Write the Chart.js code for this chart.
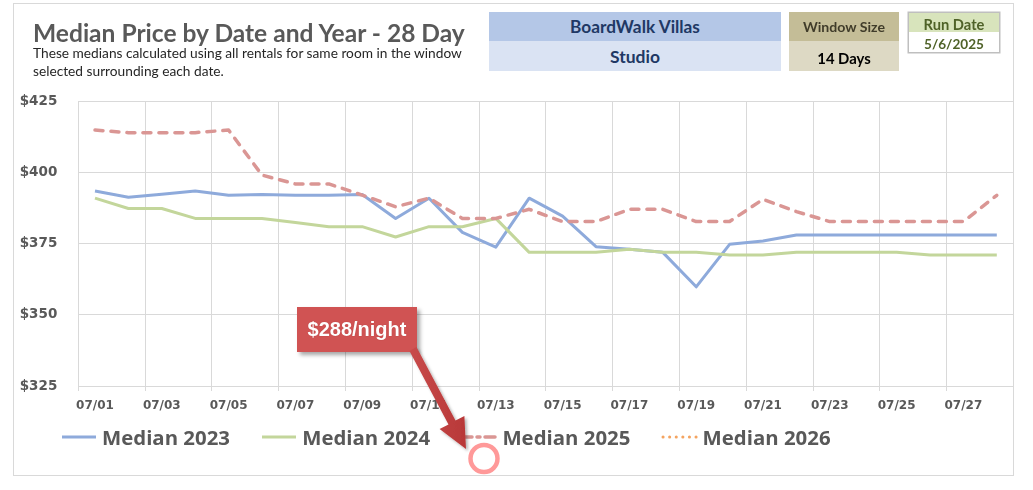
<!DOCTYPE html>
<html>
<head>
<meta charset="utf-8">
<script src="https://cdn.jsdelivr.net/npm/chart.js@4/dist/chart.umd.min.js"></script>
<style>
html,body{margin:0;padding:0;background:#fff;}
#wrap{position:relative;width:1033px;height:490px;overflow:hidden;background:#fff;}
#frame{position:absolute;left:13px;top:3px;width:999px;height:471px;border:1px solid #D9D9D9;}
#chart{position:absolute;left:0;top:0;}
.t{position:absolute;white-space:nowrap;line-height:normal;font-family:Lato,"Open Sans",sans-serif;}
.box{position:absolute;}
#note{position:absolute;left:297px;top:307px;width:120px;height:45px;background:#D05353;
  box-shadow:3px 3px 4px rgba(0,0,0,0.35);}
#legend .sw{position:absolute;}
</style>
</head>
<body>
<div id="wrap">
  <div id="frame"></div>
  <canvas id="chart" width="1033" height="490"></canvas>

  <div class="t" id="title" data-w="432" data-x="33" data-cy="32.5" style="font-weight:700;color:#595959;">Median Price by Date and Year - 28 Day</div>
  <div class="t" id="sub1" data-w="429" data-x="33" data-cy="52" style="color:#262626;">These medians calculated using all rentals for same room in the window</div>
  <div class="t" id="sub2" data-same="sub1" data-x="33" data-cy="70" style="color:#262626;">selected surrounding each date.</div>

  <div class="box" style="left:489px;top:12px;width:292px;height:29px;background:#B4C7E7;"></div>
  <div class="box" style="left:489px;top:41px;width:292px;height:30px;background:#DAE3F3;"></div>
  <div class="box" style="left:789px;top:12px;width:110px;height:29px;background:#C4BD97;"></div>
  <div class="box" style="left:789px;top:41px;width:110px;height:30px;background:#DDD9C4;"></div>
  <div class="box" style="left:908px;top:12px;width:90px;height:39px;background:#fff;border:1px solid #BFBFBF;box-shadow:0 0 0 0.5px #BFBFBF;"></div>
  <div class="box" style="left:909px;top:13px;width:90px;height:19px;background:#D8E4BC;"></div>

  <div class="t" id="h1" data-w="130" data-cx="635" data-cy="26.5" style="font-weight:700;color:#203864;">BoardWalk Villas</div>
  <div class="t" id="h2" data-w="50" data-cx="635" data-cy="56.5" style="font-weight:700;color:#203864;">Studio</div>
  <div class="t" id="h3" data-w="82" data-cx="844" data-cy="26.5" style="font-weight:700;color:#403C2A;">Window Size</div>
  <div class="t" id="h4" data-w="53.5" data-cx="844" data-cy="57.5" style="font-weight:700;color:#000;">14 Days</div>
  <div class="t" id="h5" data-w="61" data-cx="954" data-cy="23.5" style="font-weight:700;color:#4F6228;">Run Date</div>
  <div class="t" id="h6" data-w="60" data-cx="954" data-cy="43.5" style="font-weight:700;color:#4F6228;">5/6/2025</div>

  <div id="legend"></div>

  <div id="note"></div>
  <div class="t" id="noteText" data-cx="357" data-cy="329" style="font-family:'Liberation Sans',Arial,sans-serif;font-weight:700;font-size:20px;color:#fff;text-shadow:0 0 1px rgba(120,0,0,0.4);"></div>
  <svg id="arrow" width="1033" height="490" style="position:absolute;left:0;top:0;pointer-events:none;">
    <defs>
      <linearGradient id="ag" x1="0" y1="0" x2="1" y2="0">
        <stop offset="0" stop-color="#C84A4A"/>
        <stop offset="1" stop-color="#B83838"/>
      </linearGradient>
      <filter id="sh" x="-20%" y="-20%" width="140%" height="140%">
        <feDropShadow dx="2" dy="2" stdDeviation="1.5" flood-color="#000" flood-opacity="0.3"/>
      </filter>
    </defs>
    <polygon filter="url(#sh)" fill="url(#ag)" points="409.5,350.9 416.5,347.1 455.5,420.6 464.4,415.9 466,449 439.6,429.1 448.5,424.4"/>
    <circle cx="484" cy="458.5" r="13.5" fill="none" stroke="#FF9999" stroke-width="4.5"/>
  </svg>
</div>

<script>
// ---- data ----
const categories = ['07/01','07/02','07/03','07/04','07/05','07/06','07/07','07/08','07/09','07/10',
  '07/11','07/12','07/13','07/14','07/15','07/16','07/17','07/18','07/19','07/20',
  '07/21','07/22','07/23','07/24','07/25','07/26','07/27','07/28'];
const median2023 = [393.4, 391.2, 392.3, 393.4, 391.9, 392.2, 391.9, 391.9, 392.2, 383.8,
  390.9, 378.9, 373.7, 390.9, 384.6, 373.9, 373.0, 371.9, 359.8, 374.7,
  375.9, 378.0, 378.0, 378.0, 378.0, 378.0, 378.0, 378.0];
const median2024 = [390.9, 387.3, 387.3, 383.8, 383.8, 383.8, 382.4, 380.9, 380.9, 377.3,
  380.9, 380.9, 383.8, 371.9, 371.9, 371.9, 373.0, 371.9, 371.9, 371.0,
  371.0, 371.9, 371.9, 371.9, 371.9, 371.0, 371.0, 371.0];
const median2025 = [414.8, 413.9, 413.9, 413.9, 414.8, 399.0, 395.9, 395.9, 392.0, 387.9,
  390.9, 383.8, 383.8, 387.0, 382.7, 382.7, 387.0, 387.0, 382.7, 382.7,
  390.5, 386.2, 382.7, 382.7, 382.7, 382.7, 382.7, 391.9];
const median2026 = [];
const seriesLabels = ['Median 2023','Median 2024','Median 2025','Median 2026'];
const yTicks = [325, 350, 375, 400, 425];
const noteLabel = '$288/night';

// ---- chart ----
const GRID = '#D9D9D9';
const chart = new Chart(document.getElementById('chart'), {
  type: 'line',
  data: {
    labels: categories,
    datasets: [
      {label: seriesLabels[0], data: median2023, borderColor: '#8EAADB', borderWidth: 3, order: 3},
      {label: seriesLabels[1], data: median2024, borderColor: '#C3D69B', borderWidth: 3, order: 2},
      {label: seriesLabels[2], data: median2025, borderColor: '#DA9694', borderWidth: 3.5,
        borderDash: [8, 8], borderCapStyle: 'round', order: 1},
      {label: seriesLabels[3], data: median2026, borderColor: '#F4A460', borderWidth: 3,
        borderDash: [0.1, 6.5], borderCapStyle: 'round', order: 0}
    ]
  },
  options: {
    responsive: false,
    animation: false,
    devicePixelRatio: 1,
    layout: {padding: {top: 101, right: 19.5, left: 0, bottom: 0}},
    elements: {
      point: {radius: 0, hoverRadius: 0},
      line: {tension: 0, borderJoinStyle: 'round', fill: false}
    },
    plugins: {legend: {display: false}, tooltip: {enabled: false}},
    scales: {
      x: {
        offset: true,
        grid: {
          offset: true,
          color: c => (c.index % 2 === 0 ? GRID : 'rgba(0,0,0,0)'),
          lineWidth: 1,
          drawTicks: true,
          tickLength: 5
        },
        border: {display: false},
        ticks: {
          autoSkip: false, maxRotation: 0, minRotation: 0, padding: 8,
          color: '#595959',
          font: {family: 'DejaVu Sans', weight: 'bold', size: 12},
          callback: function (v, i) { return i % 2 === 0 ? this.getLabelForValue(v) : ''; }
        },
        afterFit: s => { s.height = 104; }
      },
      y: {
        min: yTicks[0],
        max: yTicks[yTicks.length - 1],
        grid: {color: GRID, lineWidth: 1, drawTicks: false},
        border: {display: false},
        ticks: {
          stepSize: yTicks[1] - yTicks[0],
          padding: 21,
          color: '#595959',
          font: {family: 'DejaVu Sans', weight: 'bold', size: 13.5},
          callback: v => '$' + v
        },
        afterFit: s => { s.width = 78.3; }
      }
    }
  }
});

// ---- HTML legend built from the chart's datasets ----
const legend = document.getElementById('legend');
chart.data.datasets.forEach((ds, i) => {
  const left = 62 + i * 200.2;
  const svgNS = 'http://www.w3.org/2000/svg';
  const svg = document.createElementNS(svgNS, 'svg');
  svg.setAttribute('width', '40'); svg.setAttribute('height', '10');
  svg.setAttribute('class', 'sw');
  svg.style.left = (left - 2) + 'px'; svg.style.top = '432px'; svg.style.position = 'absolute';
  const ln = document.createElementNS(svgNS, 'line');
  ln.setAttribute('x1', '2'); ln.setAttribute('x2', '36');
  ln.setAttribute('y1', '5'); ln.setAttribute('y2', '5');
  ln.setAttribute('stroke', ds.borderColor);
  ln.setAttribute('stroke-width', ds.borderWidth);
  if (ds.borderDash) {
    ln.setAttribute('stroke-dasharray', i === 2 ? '10 5 3 5 10' : ds.borderDash.join(' '));
    ln.setAttribute('stroke-linecap', 'round');
  }
  svg.appendChild(ln);
  legend.appendChild(svg);
  const tx = document.createElement('div');
  tx.className = 't';
  tx.textContent = ds.label;
  tx.style.fontWeight = '700';
  tx.style.color = '#595959';
  tx.style.fontFamily = '"Open Sans", Lato, sans-serif';
  tx.dataset.w = '128';
  tx.dataset.x = String(left + 40);
  tx.dataset.cy = '437';
  legend.appendChild(tx);
});

document.getElementById('noteText').textContent = noteLabel;

// ---- fit text blocks to their measured widths ----
function layoutText() {
  const els = Array.from(document.querySelectorAll('.t'));
  els.forEach(el => {
    if (el.dataset.w) {
      el.style.fontSize = '100px';
      const m = el.getBoundingClientRect().width;
      el.style.fontSize = (100 * parseFloat(el.dataset.w) / m) + 'px';
    }
  });
  els.forEach(el => {
    if (el.dataset.same) {
      el.style.fontSize = document.getElementById(el.dataset.same).style.fontSize;
    }
  });
  els.forEach(el => {
    const r = el.getBoundingClientRect();
    if (el.dataset.cx) el.style.left = (parseFloat(el.dataset.cx) - r.width / 2) + 'px';
    else if (el.dataset.x) el.style.left = el.dataset.x + 'px';
    if (el.dataset.cy) el.style.top = (parseFloat(el.dataset.cy) - r.height / 2) + 'px';
  });
}
layoutText();
if (document.fonts && document.fonts.ready) document.fonts.ready.then(layoutText);
</script>
</body>
</html>
